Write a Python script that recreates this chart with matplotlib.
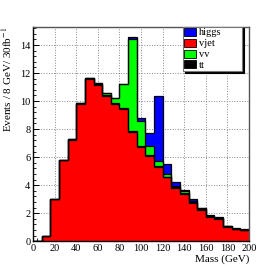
import matplotlib

matplotlib.use("Agg")
import matplotlib.pyplot as plt
import numpy as np
from matplotlib.patches import Patch
from matplotlib.ticker import MultipleLocator

# 25 bins of 8 GeV, 0-200
edges = np.arange(0, 201, 8)
vjet = [0.0, 0.4, 3.0, 5.8, 7.25, 9.8, 11.6, 11.15, 10.35, 9.8, 9.45, 7.8, 6.75,
        6.1, 5.3, 4.55, 3.8, 3.4, 2.75, 2.25, 1.72, 1.57, 1.02, 0.84, 0.78]
tt = [0, 0, 0, 0.03, 0.03, 0.04, 0.08, 0.08, 0.05, 0.05, 0.05, 0.05, 0.05,
      0.05, 0.05, 0.05, 0.05, 0.05, 0.05, 0.05, 0.05, 0.05, 0.05, 0.03, 0.03]
vv = [0, 0, 0, 0, 0, 0, 0, 0.03, 0.15, 0.35, 1.7, 6.6, 1.75,
      0.65, 0.35, 0.2, 0.1, 0.1, 0.05, 0.05, 0.03, 0.03, 0.02, 0.02, 0.02]
higgs = [0, 0, 0, 0, 0, 0, 0, 0, 0.02, 0.02, 0.05, 0.15, 0.25,
         0.95, 4.65, 0.7, 0.3, 0.12, 0.15, 0.05, 0.05, 0.05, 0.02, 0.02, 0.02]

layers = [("vjet", vjet, "#ff0000"), ("tt", tt, "#000000"),
          ("vv", vv, "#00ff00"), ("higgs", higgs, "#0000ff")]
legend_order = ["higgs", "vjet", "vv", "tt"]

plt.rcParams["font.family"] = ["Liberation Serif", "DejaVu Serif"]
plt.rcParams["mathtext.fontset"] = "stix"

fig = plt.figure(figsize=(2.76, 2.68), dpi=100)
ax = fig.add_axes([0.12, 0.1, 0.782, 0.8])

bottom = np.zeros(len(edges) - 1)
colors = {}
for name, vals, col in layers:
    top = bottom + np.array(vals)
    ax.stairs(top, edges, baseline=bottom, fill=True, color=col, zorder=2)
    ax.stairs(top, edges, baseline=None, color="black", lw=0.9, zorder=3)
    colors[name] = col
    bottom = top

ax.set_xlim(0, 200)
ax.set_ylim(0, 15.3)
ax.xaxis.set_major_locator(MultipleLocator(20))
ax.xaxis.set_minor_locator(MultipleLocator(4))
ax.yaxis.set_major_locator(MultipleLocator(2))
ax.yaxis.set_minor_locator(MultipleLocator(0.4))
ax.tick_params(which="both", direction="in", labelsize=7.5, pad=2,
               top=False, right=False)
ax.tick_params(which="major", length=4, width=0.7)
ax.tick_params(which="minor", length=2, width=0.6)
ax.grid(True, which="major", ls=":", color="#888888", lw=0.7, zorder=0)
ax.set_axisbelow(True)
for s in ax.spines.values():
    s.set_linewidth(1.0)
    s.set_zorder(4)
for s in ("top", "right"):
    ax.spines[s].set_color("#555555")

ax.set_xlabel("Mass (GeV)", loc="right", fontsize=8, labelpad=1)
ax.set_ylabel("Events / 8 GeV/ 30fb$^{-1}$", loc="top", fontsize=8, labelpad=4)

handles = [Patch(facecolor=colors[n], edgecolor="black", lw=0.6) for n in legend_order]
leg = ax.legend(handles, legend_order, loc="upper left", mode="expand",
                bbox_to_anchor=(0.694, 0.813, 0.274, 0.187), fontsize=7.5,
                frameon=True, fancybox=False,
                shadow={"color": "black", "alpha": 1.0, "ox": 1.2, "oy": -1.2},
                edgecolor="#777777", borderpad=0.1, labelspacing=0.12,
                handlelength=1.2, handleheight=0.8, handletextpad=0.25,
                borderaxespad=0.0)
leg.get_frame().set_linewidth(0.8)
leg.get_frame().set_alpha(1.0)
leg.set_zorder(5)

fig.savefig("out.png", dpi=100)
